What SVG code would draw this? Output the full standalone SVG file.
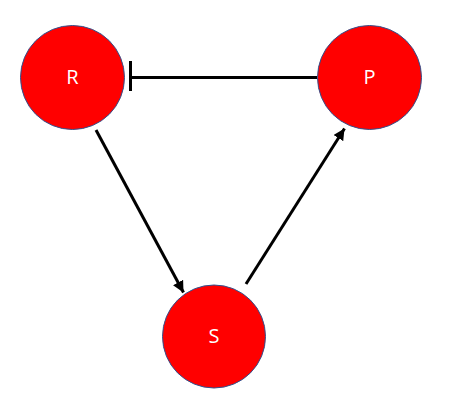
<svg xmlns="http://www.w3.org/2000/svg" width="457" height="413" viewBox="0 0 457 413">
<style>
.node circle{fill:#ff0000;stroke:#2f528f;stroke-width:1}
.node text{fill:#ffffff;font-family:"Open Sans","Liberation Sans",sans-serif;font-size:20px;text-anchor:middle;dominant-baseline:central}
.edge{stroke:#000;stroke-width:3;fill:none}
</style>
<defs>
<marker id="arrow" viewBox="0 0 10 10" refX="10" refY="5" markerWidth="3.8" markerHeight="3.8" orient="auto" markerUnits="strokeWidth">
<path d="M0,0 L10,5 L0,10 z" fill="#000"/>
</marker>
</defs>
<rect width="457" height="413" fill="#fff"/>
<g id="connectors">
<line class="edge" x1="317" y1="77.5" x2="131" y2="77.5"/>
<line class="edge" x1="130.5" y1="61" x2="130.5" y2="91"/>
<line class="edge" x1="96" y1="130" x2="183.5" y2="292.5" marker-end="url(#arrow)"/>
<line class="edge" x1="246" y1="284" x2="344.5" y2="128.5" marker-end="url(#arrow)"/>
</g>
<g id="node-R" class="node"><circle cx="72.5" cy="77.5" r="52"/><text x="72.5" y="76">R</text></g>
<g id="node-P" class="node"><circle cx="369.5" cy="77.5" r="52"/><text x="369.5" y="76">P</text></g>
<g id="node-S" class="node"><circle cx="214" cy="336.5" r="51.5"/><text x="214" y="335">S</text></g>
</svg>
